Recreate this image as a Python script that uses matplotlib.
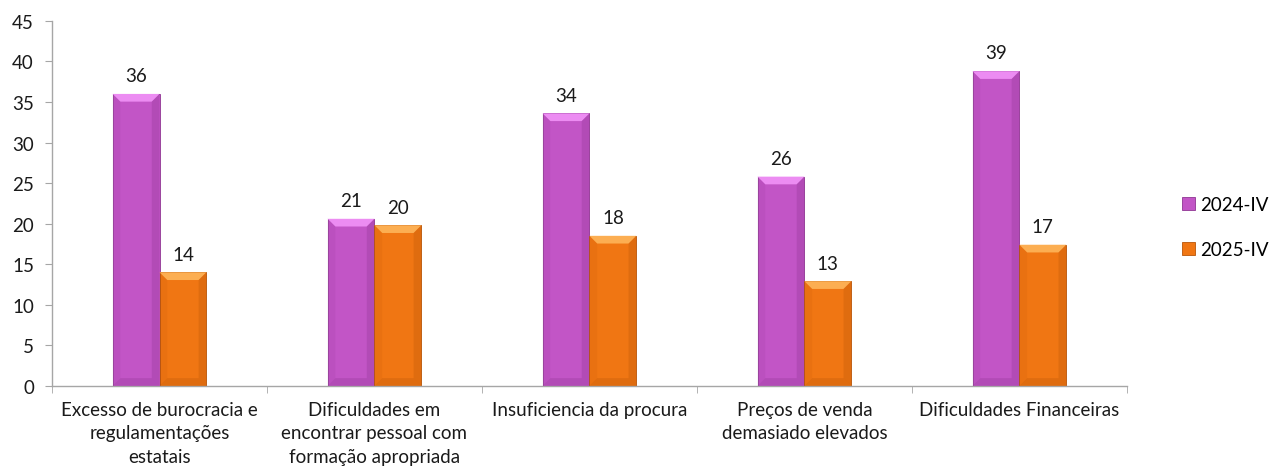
#!/usr/bin/env python3

import matplotlib.pyplot as plt
from matplotlib.patches import Polygon
import numpy as np

categories = [
    "Excesso de burocracia e\nregulamentações\nestatais",
    "Dificuldades em\nencontrar pessoal com\nformação apropriada",
    "Insuficiencia da procura",
    "Preços de venda\ndemasiado elevados",
    "Dificuldades Financeiras",
]
series_names = ["2024-IV", "2025-IV"]
values_2024 = [36.0, 20.6, 33.6, 25.8, 38.8]
values_2025 = [14.0, 19.8, 18.5, 12.9, 17.4]
y_ticks = [0, 5, 10, 15, 20, 25, 30, 35, 40, 45]

base_colors = ["#c255c6", "#f07613"]
light_colors = ["#ec8cf2", "#fcae52"]
dark_colors = ["#8f3493", "#b85508"]

plt.rcParams["font.family"] = ["Lato", "DejaVu Sans"]

fig = plt.figure(figsize=(12.69, 4.77), dpi=100)
ax = fig.add_axes([0.041, 0.189, 0.847, 0.765])

x = np.arange(len(categories))
width = 0.218


def add_bevel(axis, bar, light, dark):
    x0, y0 = bar.get_x(), bar.get_y()
    w, h = bar.get_width(), bar.get_height()
    bx = 0.036
    by = min(0.95, h / 2)
    top = Polygon([(x0, y0 + h), (x0 + w, y0 + h), (x0 + w - bx, y0 + h - by), (x0 + bx, y0 + h - by)],
                  closed=True, facecolor=light, edgecolor="none", zorder=3)
    right = Polygon([(x0 + w, y0 + h), (x0 + w, y0), (x0 + w - bx, y0 + by), (x0 + w - bx, y0 + h - by)],
                    closed=True, facecolor=dark, edgecolor="none", alpha=0.3, zorder=3)
    left = Polygon([(x0, y0 + h), (x0, y0), (x0 + bx, y0 + by), (x0 + bx, y0 + h - by)],
                   closed=True, facecolor=dark, edgecolor="none", alpha=0.12, zorder=3)
    bottom = Polygon([(x0, y0), (x0 + w, y0), (x0 + w - bx, y0 + by), (x0 + bx, y0 + by)],
                     closed=True, facecolor=dark, edgecolor="none", alpha=0.3, zorder=3)
    for patch in (top, right, left, bottom):
        axis.add_patch(patch)


for i, vals in enumerate([values_2024, values_2025]):
    offset = (i - 0.5) * width
    bars = ax.bar(x + offset, vals, width=width, color=base_colors[i], edgecolor=dark_colors[i],
                  linewidth=0.6, label=series_names[i], zorder=2)
    for bar, value in zip(bars, vals):
        add_bevel(ax, bar, light_colors[i], dark_colors[i])
        ax.text(bar.get_x() + bar.get_width() / 2, value + 1.2, f"{value:.0f}",
                ha="center", va="bottom", fontsize=13.5, color="#1a1a1a")

ax.set_xlim(-0.5, len(categories) - 0.5)
ax.set_ylim(0, 45)
ax.set_yticks(y_ticks)
ax.set_xticks(x)
ax.set_xticklabels(categories, fontsize=13.5, color="#1a1a1a", linespacing=1.45)
ax.set_xticks(np.arange(len(categories) + 1) - 0.5, minor=True)
ax.tick_params(axis="x", which="major", length=0, pad=11)
ax.tick_params(axis="x", which="minor", length=5, color="#a6a6a6", direction="out")
ax.tick_params(axis="y", length=5, color="#a6a6a6", labelsize=13.5, labelcolor="#1a1a1a", pad=8)

for side in ("top", "right"):
    ax.spines[side].set_visible(False)
for side in ("left", "bottom"):
    ax.spines[side].set_color("#a6a6a6")
    ax.spines[side].set_linewidth(1.0)

ax.legend(loc="center left", bbox_to_anchor=(1.036, 0.435), frameon=False, fontsize=13.5,
          handlelength=0.65, handleheight=0.65, labelspacing=1.5, handletextpad=0.3)

fig.savefig("out.png", dpi=100, facecolor="white")
